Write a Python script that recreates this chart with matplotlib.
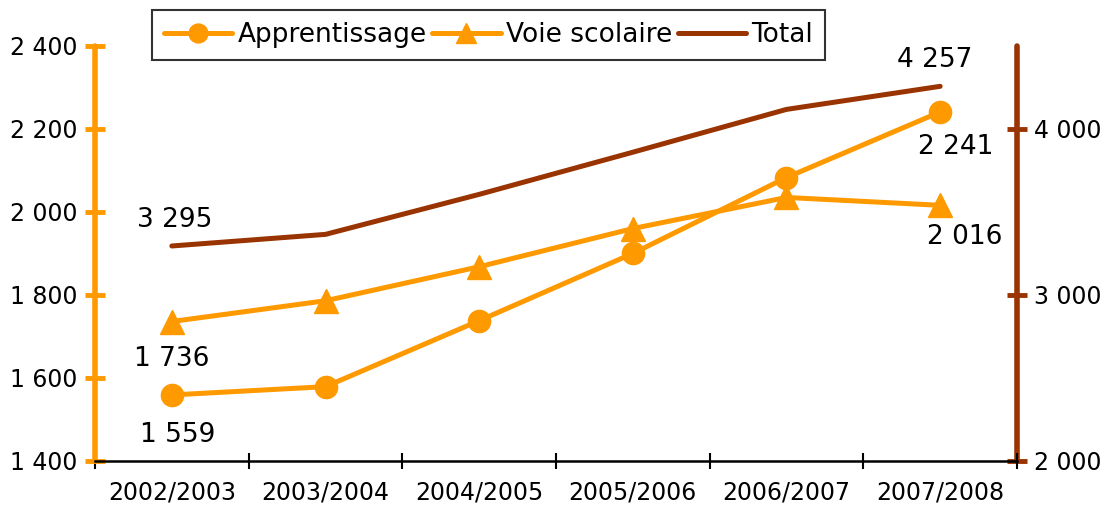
import matplotlib
matplotlib.use("Agg")
import matplotlib.pyplot as plt
from matplotlib.ticker import FuncFormatter

ORANGE = "#FF9900"
BROWN = "#993300"

years = ["2002/2003", "2003/2004", "2004/2005", "2005/2006", "2006/2007", "2007/2008"]
apprentissage = [1559, 1579, 1738, 1900, 2083, 2241]
voie_scolaire = [1736, 1786, 1868, 1960, 2035, 2016]
total = [3295, 3365, 3606, 3860, 4118, 4257]

left_ticks = [1400, 1600, 1800, 2000, 2200, 2400]
right_ticks = [2000, 3000, 4000]

FS = 17      # tick labels
FS_LAB = 19  # data labels
FS_LEG = 19  # legend


def fmt(v, pos=None):
    return f"{int(v):,}".replace(",", " ")


fig = plt.figure(figsize=(11.1, 5.11), dpi=100)
ax = fig.add_axes([0.0856, 0.098, 0.8306, 0.812])
ax2 = ax.twinx()

x = list(range(len(years)))

l1, = ax.plot(x, apprentissage, color=ORANGE, lw=3.6, marker="o", ms=16,
              solid_capstyle="round", label="Apprentissage", zorder=3)
l2, = ax.plot(x, voie_scolaire, color=ORANGE, lw=3.6, marker="^", ms=17,
              solid_capstyle="round", label="Voie scolaire", zorder=3)
l3, = ax2.plot(x, total, color=BROWN, lw=3.6, solid_capstyle="round",
               label="Total", zorder=3)

ax.set_xlim(-0.5, len(years) - 0.5)
ax.set_ylim(1400, 2400)
ax2.set_ylim(2000, 4500)
ax.set_yticks(left_ticks)
ax2.set_yticks(right_ticks)
ax.yaxis.set_major_formatter(FuncFormatter(fmt))
ax2.yaxis.set_major_formatter(FuncFormatter(fmt))

# x axis: ticks at category boundaries, labels centred on categories
ax.set_xticks([i + 0.5 for i in range(-1, len(years))], minor=False)
ax.set_xticklabels([])
ax.set_xticks(x, minor=True)
ax.set_xticklabels(years, minor=True, fontsize=FS)
ax.tick_params(axis="x", which="major", direction="inout", length=12, width=1.5, color="black")
ax.tick_params(axis="x", which="minor", length=0, pad=14)

for a in (ax, ax2):
    for s in a.spines.values():
        s.set_visible(False)

ax.spines["bottom"].set_visible(True)
ax.spines["bottom"].set_linewidth(1.8)
ax.spines["left"].set_visible(True)
ax.spines["left"].set_color(ORANGE)
ax.spines["left"].set_linewidth(4)
ax.spines["left"].set_capstyle("round")
ax2.spines["right"].set_visible(True)
ax2.spines["right"].set_color(BROWN)
ax2.spines["right"].set_linewidth(4)
ax2.spines["right"].set_capstyle("round")

ax.tick_params(axis="y", direction="inout", length=15, width=3.5, color=ORANGE,
               labelsize=FS, pad=5)
ax2.tick_params(axis="y", direction="inout", length=15, width=3.5, color=BROWN,
                labelsize=FS, pad=5)

ax.set_zorder(ax2.get_zorder() + 1)
ax.patch.set_visible(False)

# data labels on first and last points
def lab(a, xi, yi, dx, dy):
    a.annotate(fmt(yi), (xi, yi), xytext=(dx, dy), textcoords="offset points",
               ha="center", va="center", fontsize=FS_LAB)

lab(ax2, 0, total[0], 2, 19)
lab(ax, 0, voie_scolaire[0], 0, -27)
lab(ax, 0, apprentissage[0], 4, -29)
lab(ax2, 5, total[5], -4, 19)
lab(ax, 5, apprentissage[5], 11, -25)
lab(ax, 5, voie_scolaire[5], 18, -23)

leg = fig.legend([l1, l2, l3], ["Apprentissage", "Voie scolaire", "Total"],
                 loc="upper left", bbox_to_anchor=(152 / 1110, 1 - 10 / 511),
                 ncol=3, fontsize=FS_LEG, frameon=True, fancybox=False,
                 handlelength=2.6, handletextpad=0.2, columnspacing=0.2,
                 borderpad=0.45, borderaxespad=0, markerscale=0.85)
leg.get_frame().set_edgecolor("black")
leg.get_frame().set_linewidth(1.5)

fig.savefig("out.png", dpi=100)
